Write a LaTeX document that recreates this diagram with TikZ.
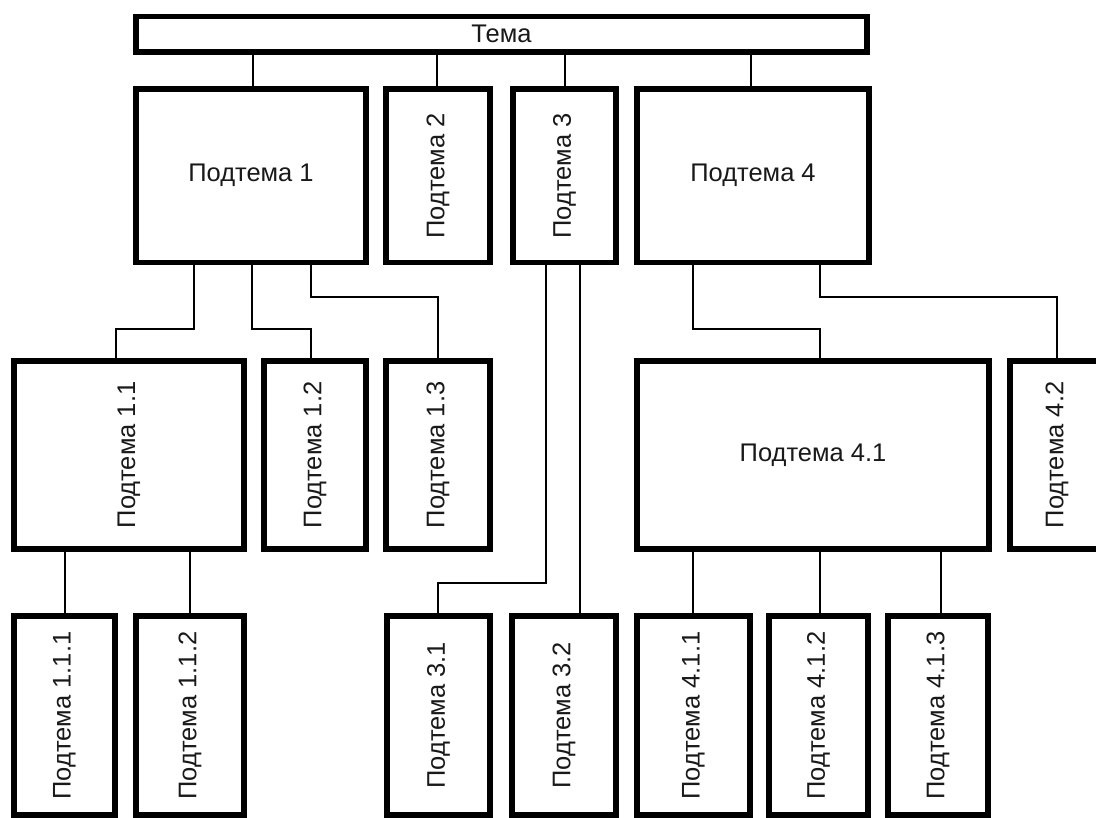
\documentclass[tikz,border=0pt]{standalone}
\usepackage{fontspec}
\usepackage{graphicx}
\setmainfont{Liberation Sans}
\tikzset{
  box/.style={draw=black, line width=5.5pt, fill=white, inner sep=0pt, outer sep=0pt,
    font=\fontsize{25.5}{30}\selectfont, text=black!90},
  conn/.style={draw=black, line width=1.4pt},
}
\newcommand{\vt}[1]{\rotatebox{90}{#1}}
\begin{document}
\begin{tikzpicture}[x=1pt,y=-1pt]
\useasboundingbox (0,0) rectangle (1096,818);
% boxes
\node[box, minimum width=731pt, minimum height=35.5pt] (tema) at (501.5,34.25) {Тема};
\node[box, minimum width=230pt, minimum height=173.5pt] (p1) at (251,175.75) {Подтема 1};
\node[box, minimum width=104pt, minimum height=173.5pt] (p2) at (438,175.75) {\vt{Подтема 2}};
\node[box, minimum width=103pt, minimum height=173.5pt] (p3) at (564.5,175.75) {\vt{Подтема 3}};
\node[box, minimum width=232pt, minimum height=173.5pt] (p4) at (753,175.75) {Подтема 4};
\node[box, minimum width=230pt, minimum height=188pt] (p11) at (129,455) {\vt{Подтема 1.1}};
\node[box, minimum width=102pt, minimum height=188pt] (p12) at (315,455) {\vt{Подтема 1.2}};
\node[box, minimum width=104pt, minimum height=188pt] (p13) at (438,455) {\vt{Подтема 1.3}};
\node[box, minimum width=352pt, minimum height=188pt] (p41) at (813,455) {Подтема 4.1};
\node[box, minimum width=94pt, minimum height=188pt] (p42) at (1057,455) {\vt{Подтема 4.2}};
\node[box, minimum width=101pt, minimum height=199pt] (p111) at (64.5,715.5) {\vt{Подтема 1.1.1}};
\node[box, minimum width=108pt, minimum height=199pt] (p112) at (190,715.5) {\vt{Подтема 1.1.2}};
\node[box, minimum width=103pt, minimum height=199pt] (p31) at (438.5,715.5) {\vt{Подтема 3.1}};
\node[box, minimum width=104pt, minimum height=199pt] (p32) at (564,715.5) {\vt{Подтема 3.2}};
\node[box, minimum width=113pt, minimum height=199pt] (p411) at (693.5,715.5) {\vt{Подтема 4.1.1}};
\node[box, minimum width=99pt, minimum height=199pt] (p412) at (818.5,715.5) {\vt{Подтема 4.1.2}};
\node[box, minimum width=100pt, minimum height=199pt] (p413) at (938,715.5) {\vt{Подтема 4.1.3}};
% level 1
\draw[conn] (tema.south -| 253,0) -- (p1.north -| 253,0);
\draw[conn] (tema.south -| 437,0) -- (p2.north -| 437,0);
\draw[conn] (tema.south -| 565,0) -- (p3.north -| 565,0);
\draw[conn] (tema.south -| 751,0) -- (p4.north -| 751,0);
% from Подтема 1
\draw[conn] (p1.south -| 194,0) -- (194,329) -- (116,329) -- (p11.north -| 116,0);
\draw[conn] (p1.south -| 252,0) -- (252,329) -- (311,329) -- (p12.north -| 311,0);
\draw[conn] (p1.south -| 311,0) -- (311,297) -- (438,297) -- (p13.north -| 438,0);
% from Подтема 3
\draw[conn] (p3.south -| 546,0) -- (546,583) -- (438,583) -- (p31.north -| 438,0);
\draw[conn] (p3.south -| 580,0) -- (p32.north -| 580,0);
% from Подтема 4
\draw[conn] (p4.south -| 693,0) -- (693,329) -- (820,329) -- (p41.north -| 820,0);
\draw[conn] (p4.south -| 820,0) -- (820,297) -- (1057,297) -- (p42.north -| 1057,0);
% from 1.1
\draw[conn] (p11.south -| 65,0) -- (p111.north -| 65,0);
\draw[conn] (p11.south -| 190,0) -- (p112.north -| 190,0);
% from 4.1
\draw[conn] (p41.south -| 693,0) -- (p411.north -| 693,0);
\draw[conn] (p41.south -| 820,0) -- (p412.north -| 820,0);
\draw[conn] (p41.south -| 941,0) -- (p413.north -| 941,0);
\end{tikzpicture}
\end{document}
